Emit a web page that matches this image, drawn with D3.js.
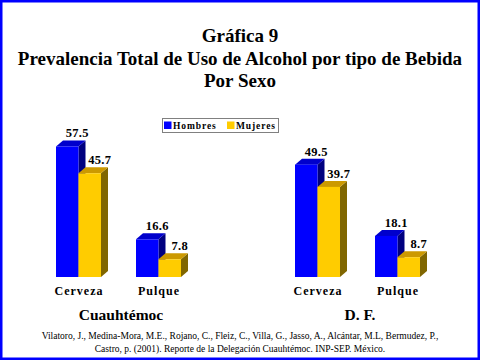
<!DOCTYPE html>
<html><head><meta charset="utf-8">
<script src="https://cdn.jsdelivr.net/npm/d3@7"></script>
<style>body{margin:0;background:#fff}svg{display:block}</style>
</head><body>
<script>
const titleLines = ["Gráfica 9", "Prevalencia Total de Uso de Alcohol por tipo de Bebida", "Por Sexo"];
const groups = ["Cuauhtémoc", "D. F."];
const categories = ["Cerveza", "Pulque"];
const series = ["Hombres", "Mujeres"];
const hombres = [[57.5, 16.6], [49.5, 18.1]];
const mujeres = [[45.7, 7.8], [39.7, 8.7]];
const footnote = ["Vilatoro, J., Medina-Mora,  M.E., Rojano, C., Fleiz, C., Villa, G., Jasso, A., Alcántar, M.L, Bermudez, P.,",
                  "Castro, p. (2001). Reporte de la Delegación Cuauhtémoc. INP-SEP. México."];

const W = 480, H = 360;
const serif = "'Liberation Serif','Times New Roman',serif";
const svg = d3.select("body").append("svg").attr("width", W).attr("height", H);

svg.append("rect").attr("x", 1.25).attr("y", 1.25).attr("width", W - 2.5).attr("height", H - 2.5)
  .attr("fill", "#fff").attr("stroke", "#0000ff").attr("stroke-width", 2.5);

svg.selectAll("text.title").data(titleLines).join("text").attr("class", "title")
  .attr("x", 240).attr("y", (d, i) => 42 + i * 22.5)
  .attr("text-anchor", "middle").attr("font-family", serif).attr("font-weight", "bold")
  .attr("font-size", 19).text(d => d);

const outer = d3.scaleBand().domain(groups).range([0, 478]);
const inner = d3.scalePoint().domain(categories).range([0, 80]);
const sx = d3.scaleBand().domain(series).range([0, 45]);
const y = d3.scaleLinear().domain([0, 60]).range([277, 140.8]);
const frontCol = {Hombres: "#0000ff", Mujeres: "#ffcc00"};
const sideCol = {Hombres: "#000080", Mujeres: "#806600"};
const topCol = {Hombres: "#0000cc", Mujeres: "#cc9900"};
const dx = 7, dy = 6;
const base = 56;

const bars = [];
groups.forEach((g, gi) => categories.forEach((c, ci) => {
  series.forEach((s, si) => {
    const v = (si === 0 ? hombres : mujeres)[gi][ci];
    bars.push({g, c, s, v});
  });
}));

const bw = sx.bandwidth();
bars.forEach(b => {
  const x0 = outer(b.g) + base + inner(b.c) + sx(b.s);
  const x1 = x0 + bw;
  const yt = y(b.v), yb = y(0);
  const gEl = svg.append("g");
  gEl.append("polygon").attr("points", [[x1, yb], [x1 + dx, yb - dy], [x1 + dx, yt - dy], [x1, yt]].join(" "))
    .attr("fill", sideCol[b.s]);
  gEl.append("polygon").attr("points", [[x0, yt], [x0 + dx, yt - dy], [x1 + dx, yt - dy], [x1, yt]].join(" "))
    .attr("fill", topCol[b.s]);
  gEl.append("rect").attr("x", x0).attr("y", yt).attr("width", bw).attr("height", yb - yt)
    .attr("fill", frontCol[b.s]);
  svg.append("text").attr("x", x0 + bw / 2 + 10).attr("y", yt - 9)
    .attr("text-anchor", "middle").attr("font-family", serif).attr("font-weight", "bold")
    .attr("font-size", 12.5).attr("letter-spacing", 0.3).text(b.v.toFixed(1));
});

groups.forEach(g => {
  categories.forEach(c => {
    svg.append("text").attr("x", outer(g) + base + inner(c) + 22.5 + 0.5).attr("y", 295)
      .attr("text-anchor", "middle").attr("font-family", serif).attr("font-weight", "bold")
      .attr("font-size", 12).attr("letter-spacing", 1).text(c);
  });
  svg.append("text").attr("x", outer(g) + base + 65).attr("y", 320)
    .attr("text-anchor", "middle").attr("font-family", serif).attr("font-weight", "bold")
    .attr("font-size", 15.5).text(g);
});

// legend
const lg = svg.append("g");
lg.append("rect").attr("x", 162.5).attr("y", 118.5).attr("width", 116).attr("height", 14)
  .attr("fill", "#fff").attr("stroke", "#808080").attr("stroke-width", 1);
const legX = d3.scalePoint().domain(series).range([164, 227]);
series.forEach(s => {
  lg.append("rect").attr("x", legX(s)).attr("y", 121.5).attr("width", 7.5).attr("height", 7.5).attr("fill", frontCol[s]);
  lg.append("text").attr("x", legX(s) + 9).attr("y", 129).attr("font-family", serif).attr("font-weight", "bold")
    .attr("font-size", 9.5).attr("letter-spacing", 0.9).text(s);
});

svg.selectAll("text.foot").data(footnote).join("text").attr("class", "foot")
  .attr("x", 240).attr("y", (d, i) => 339 + i * 13)
  .attr("text-anchor", "middle").attr("font-family", serif).attr("font-size", 9.5).text(d => d);
</script>
</body></html>
